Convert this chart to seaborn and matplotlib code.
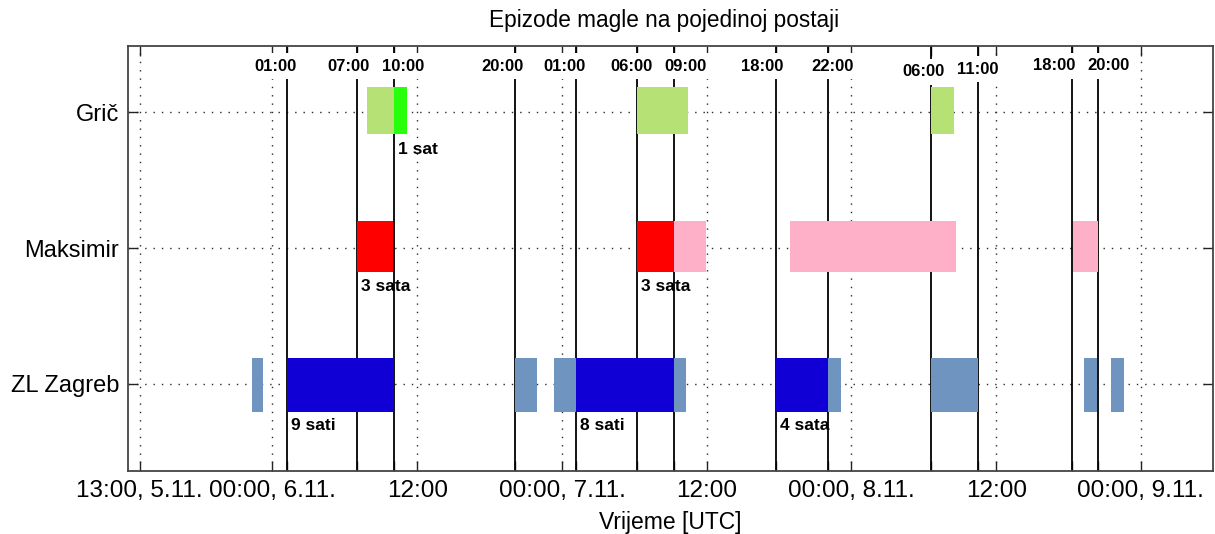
import numpy as np
import pandas as pd
import matplotlib
matplotlib.use("Agg")
import matplotlib.pyplot as plt
import seaborn as sns

# ---------------- data (hours since 00:00 UTC, 5.11.) ----------------
stations = ["Grič", "Maksimir", "ZL Zagreb"]

gric_start = [31.85, 34.05, 54.23, 78.57]
gric_end = [34.05, 35.13, 58.42, 80.47]
gric_kind = ["slaba", "jaka", "slaba", "slaba"]

maks_start = [31.01, 54.21, 57.33, 66.94, 90.33]
maks_end = [33.99, 57.33, 59.96, 80.67, 92.40]
maks_kind = ["jaka", "jaka", "slaba", "slaba", "slaba"]

zl_start = [22.31, 25.21, 44.13, 47.33, 49.15, 57.33, 65.72, 70.05, 78.57, 91.26, 93.52]
zl_end = [23.22, 34.05, 45.92, 49.15, 57.33, 58.28, 70.05, 71.13, 82.47, 92.38, 94.61]
zl_kind = ["slaba", "jaka", "slaba", "slaba", "jaka", "slaba", "jaka", "slaba", "slaba", "slaba", "slaba"]

# episode durations written under the bars
ann_station = ["Grič", "Maksimir", "Maksimir", "ZL Zagreb", "ZL Zagreb", "ZL Zagreb"]
ann_hour = [34.05, 31.01, 54.21, 25.21, 49.15, 65.72]
ann_text = ["1 sat", "3 sata", "3 sata", "9 sati", "8 sati", "4 sata"]

# marked moments (vertical lines)
line_hour = [25.21, 30.98, 34.05, 44.13, 49.15, 54.22, 57.33, 65.76, 70.03, 78.60, 82.46, 90.28, 92.40]
line_label = ["01:00", "07:00", "10:00", "20:00", "01:00", "06:00", "09:00",
              "18:00", "22:00", "06:00", "11:00", "18:00", "20:00"]

major_hour = [13, 24, 36, 48, 60, 72, 84, 96]
major_label = ["13:00, 5.11.", "00:00, 6.11.", "12:00", "00:00, 7.11.",
               "12:00", "00:00, 8.11.", "12:00", "00:00, 9.11."]

# ---------------- styles ----------------
label_dx = [-0.98, -0.64, 0.77, -1.05, -0.93, -0.42, 0.95, -1.14, 0.39, -0.66, 0.04, -1.44, 0.89]
label_y = [-0.34, -0.34, -0.34, -0.34, -0.34, -0.34, -0.34, -0.34, -0.34, -0.30, -0.317, -0.345, -0.345]

colors = {
    ("Grič", "slaba"): "#B5E175",
    ("Grič", "jaka"): "#28FF0A",
    ("Maksimir", "slaba"): "#FFB0C9",
    ("Maksimir", "jaka"): "#FF0000",
    ("ZL Zagreb", "slaba"): "#7094C0",
    ("ZL Zagreb", "jaka"): "#1000D6",
}
row_offset = {"Grič": -0.015, "Maksimir": -0.013, "ZL Zagreb": 0.007}
row_height = {"Grič": 0.35, "Maksimir": 0.37, "ZL Zagreb": 0.40}
ann_offset = {"Grič": 0.275, "Maksimir": 0.28, "ZL Zagreb": 0.31}

frames = []
for st, s, e, k in [("Grič", gric_start, gric_end, gric_kind),
                    ("Maksimir", maks_start, maks_end, maks_kind),
                    ("ZL Zagreb", zl_start, zl_end, zl_kind)]:
    frames.append(pd.DataFrame({"station": st, "start": s, "end": e, "kind": k}))
df = pd.concat(frames, ignore_index=True)
df["y"] = df["station"].map({s: i for i, s in enumerate(stations)})

sns.set_theme(style="white")
plt.rcParams["font.family"] = ["Liberation Sans", "DejaVu Sans"]
plt.rcParams["text.color"] = "black"
plt.rcParams["axes.labelcolor"] = "black"
plt.rcParams["xtick.color"] = "black"
plt.rcParams["ytick.color"] = "black"

fig = plt.figure(figsize=(12.15, 5.34), dpi=100)
ax = fig.add_axes([0.1051, 0.1185, 0.8935, 0.7954])

# grid
ax.set_xticks(major_hour, major_label)
ax.set_xticks(line_hour, minor=True)
ax.set_yticks(range(len(stations)), stations)
ax.grid(True, which="major", axis="both", color="#2a2a2a",
        linestyle=(0, (1, 5)), linewidth=1.0)
ax.set_axisbelow(True)

# vertical marker lines
for h in line_hour:
    ax.axvline(h, color="black", linewidth=1.3, zorder=2)

# bars
for _, r in df.iterrows():
    ax.barh(r["y"] + row_offset[r["station"]], r["end"] - r["start"], left=r["start"],
            height=row_height[r["station"]], color=colors[(r["station"], r["kind"])],
            edgecolor="none", zorder=3)

# durations
for st, h, t in zip(ann_station, ann_hour, ann_text):
    yy = stations.index(st) + ann_offset[st]
    ax.annotate(t, (h, yy), xytext=(3, 0), textcoords="offset points",
                ha="left", va="center", fontsize=12.5, fontweight="bold",
                color="black", zorder=5)

# labels of marker lines
for h, lab, dx, yy in zip(line_hour, line_label, label_dx, label_y):
    ax.text(h + dx, yy, lab, ha="center", va="center", fontsize=12, fontweight="bold",
            color="black", zorder=5,
            bbox=dict(facecolor="white", edgecolor="none", pad=4))

ax.set_xlim(12.0, 102.0)
ax.set_ylim(2.64, -0.49)

ax.tick_params(which="both", direction="in", top=True, right=True, bottom=True, left=True,
               length=7, width=1.0, color="#222222")
ax.tick_params(axis="x", which="major", labelsize=17.5, pad=7, labelcolor="black")
ax.tick_params(axis="y", which="major", labelsize=17, pad=6, labelcolor="black")
for sp in ax.spines.values():
    sp.set_color("#444444")
    sp.set_linewidth(1.3)

ax.set_xlabel("Vrijeme [UTC]", fontsize=16.5, labelpad=6, color="black")
ax.set_title("Epizode magle na pojedinoj postaji", fontsize=16.3, pad=14, color="black",
             x=0.494)

fig.savefig("out.png", dpi=100)
